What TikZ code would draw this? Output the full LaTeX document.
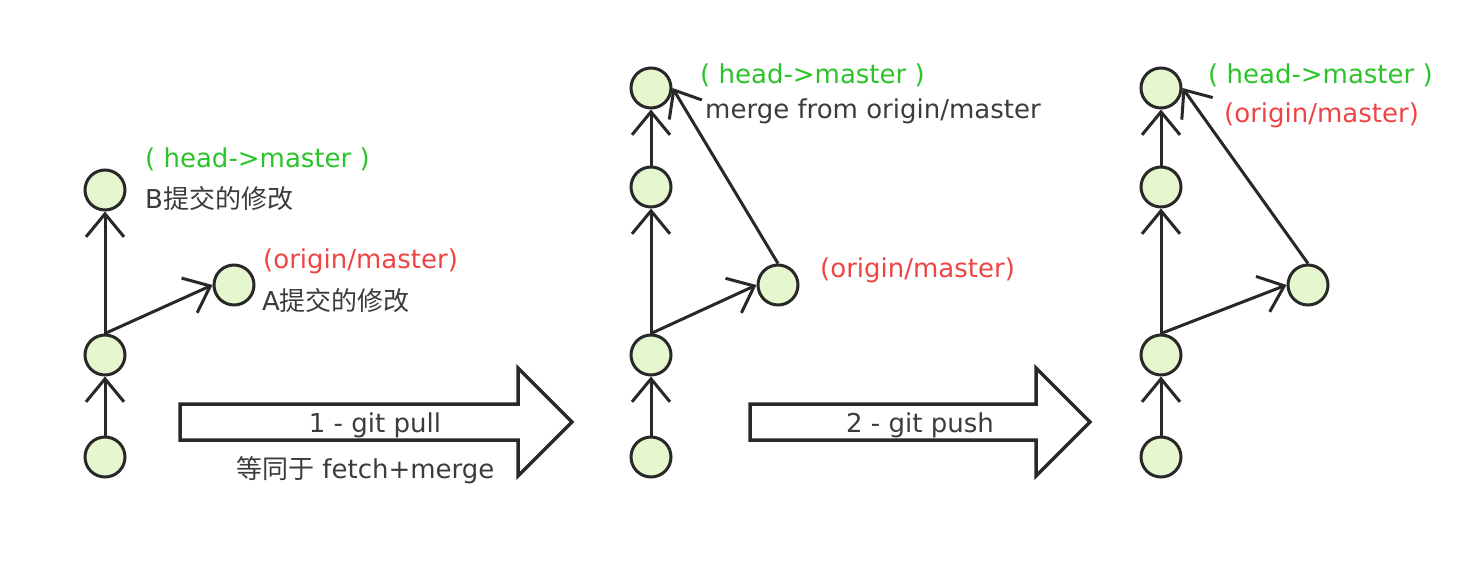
\documentclass[tikz,border=0pt]{standalone}
\usepackage{fontspec}
\setmainfont{DejaVu Sans}
\newfontfamily\cjk{Noto Sans CJK SC}
\usetikzlibrary{arrows.meta}
\definecolor{nodefill}{RGB}{230,247,207}
\definecolor{linegray}{RGB}{40,40,40}
\definecolor{textgray}{RGB}{60,60,60}
\definecolor{headgreen}{RGB}{40,196,40}
\definecolor{originred}{RGB}{238,68,68}
\begin{document}
\begin{tikzpicture}[x=1pt, y=-1pt,
    commit/.style={draw=linegray, fill=nodefill, circle, line width=3pt, minimum size=40pt, inner sep=0pt},
    parent/.style={draw=linegray, line width=3pt, -{Straight Barb[length=23pt, width=38pt]}},
    bigarrow/.style={draw=linegray, line width=3.5pt, fill=white, line join=miter},
    lbl/.style={inner sep=0pt, anchor=base west, font=\fontsize{26}{31}\selectfont},
  ]
  \useasboundingbox (0,0) rectangle (1473,562);
  % before the pull
  \node[commit] (l1) at (105,457) {};
  \node[commit] (l2) at (105,355) {};
  \node[commit] (lB) at (105,190) {};
  \node[commit] (lA) at (234,285) {};
  \draw[parent] (l1) -- (l2);
  \draw[parent] (l2) -- (lB);
  \draw[parent] (l2.north) -- (lA.west);
  \node[lbl, headgreen] (lhead) at (145,167) {( head->master )};
  \node[lbl, textgray] (lBtxt) at (145,208) {B{\cjk 提交的修改}};
  \node[lbl, originred] (lorig) at (263,268) {(origin/master)};
  \node[lbl, textgray] (lAtxt) at (262,310) {A{\cjk 提交的修改}};
  % step 1
  \draw[bigarrow] (180,404) -- (518,404) -- (518,368) -- (572,422) -- (518,476) -- (518,440) -- (180,440) -- cycle;
  \node[lbl, anchor=base, textgray] (pull) at (375,432) {1 - git pull};
  \node[lbl, textgray] (pullnote) at (236,478) {{\cjk 等同于} fetch+merge};
  % after the pull
  \node[commit] (m1) at (651,457) {};
  \node[commit] (m2) at (651,355) {};
  \node[commit] (m3) at (651,187) {};
  \node[commit] (m4) at (651,88) {};
  \node[commit] (mS) at (778,285) {};
  \draw[parent] (m1) -- (m2);
  \draw[parent] (m2) -- (m3);
  \draw[parent] (m3) -- (m4);
  \draw[parent] (m2.north) -- (mS.west);
  \draw[parent] (mS.north) -- (m4.east);
  \node[lbl, headgreen] (mhead) at (700,83) {( head->master )};
  \node[lbl, textgray] (mmerge) at (705,118) {merge from origin/master};
  \node[lbl, originred] (morig) at (820,277) {(origin/master)};
  % step 2
  \draw[bigarrow] (750,404) -- (1036,404) -- (1036,368) -- (1090,422) -- (1036,476) -- (1036,440) -- (750,440) -- cycle;
  \node[lbl, anchor=base, textgray] (push) at (920,432) {2 - git push};
  % after the push
  \node[commit] (r1) at (1161,457) {};
  \node[commit] (r2) at (1161,355) {};
  \node[commit] (r3) at (1161,187) {};
  \node[commit] (r4) at (1161,88) {};
  \node[commit] (rS) at (1308,285) {};
  \draw[parent] (r1) -- (r2);
  \draw[parent] (r2) -- (r3);
  \draw[parent] (r3) -- (r4);
  \draw[parent] (r2.north) -- (rS.west);
  \draw[parent] (rS.north) -- (r4.east);
  \node[lbl, headgreen] (rhead) at (1208,83) {( head->master )};
  \node[lbl, originred] (rorig) at (1224,122) {(origin/master)};
\end{tikzpicture}
\end{document}
